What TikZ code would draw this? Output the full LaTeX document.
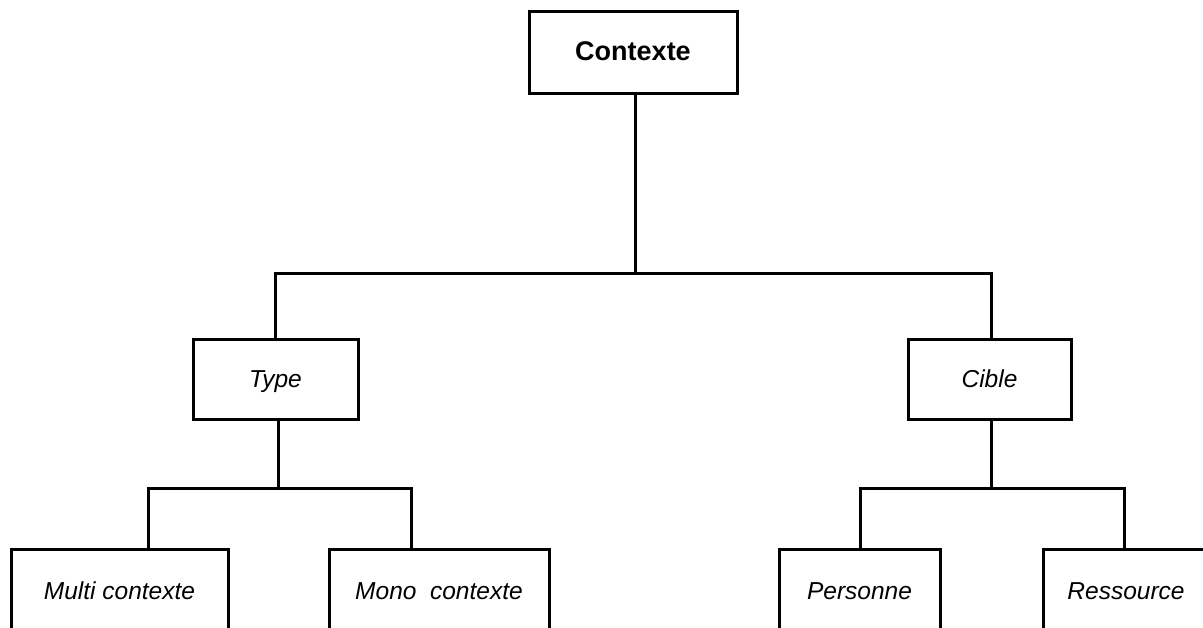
\documentclass[tikz,border=0pt]{standalone}
\usepackage{fontspec}
\setmainfont{Liberation Sans}
\begin{document}
\begin{tikzpicture}[x=1pt,y=-1pt,
  box/.style={draw=black,line width=3pt,rectangle,inner sep=0pt,fill=white,text height=20.5pt,text depth=3pt},
  lbl/.style={font=\fontsize{24.5}{29}\selectfont\itshape},
  conn/.style={draw=black,line width=3pt}]
\useasboundingbox (0,0) rectangle (1203,627);
\fill[white] (0,0) rectangle (1203,627);
\node[box,minimum width=208pt,minimum height=82pt,font=\fontsize{27}{32}\selectfont\bfseries] (ctx) at (633,52) {Contexte};
\node[box,lbl,minimum width=165pt,minimum height=80pt] (type) at (275.5,379) {Type};
\node[box,lbl,minimum width=163pt,minimum height=80pt] (cible) at (989.5,379) {Cible};
\node[box,lbl,minimum width=217pt,minimum height=84pt] (multi) at (119.5,591) {Multi contexte};
\node[box,lbl,minimum width=220pt,minimum height=84pt] (mono) at (439,591) {Mono\ \ contexte};
\node[box,lbl,minimum width=161pt,minimum height=84pt] (pers) at (859.5,591) {Personne};
\node[box,lbl,minimum width=166pt,minimum height=84pt] (res) at (1126,591) {Ressource};
\coordinate (b1) at (635,273);
\coordinate (b2) at (278,488);
\coordinate (b3) at (991,488);
\draw[conn] (ctx.south -| b1) -- (b1);
\draw[conn] (b1) -| (type.north);
\draw[conn] (b1) -| (cible.north -| 991,0);
\draw[conn] (type.south -| b2) -- (b2);
\draw[conn] (b2) -| (multi.north -| 148,0);
\draw[conn] (b2) -| (mono.north -| 411,0);
\draw[conn] (cible.south -| b3) -- (b3);
\draw[conn] (b3) -| (pers.north -| 860,0);
\draw[conn] (b3) -| (res.north -| 1124,0);
\end{tikzpicture}
\end{document}
